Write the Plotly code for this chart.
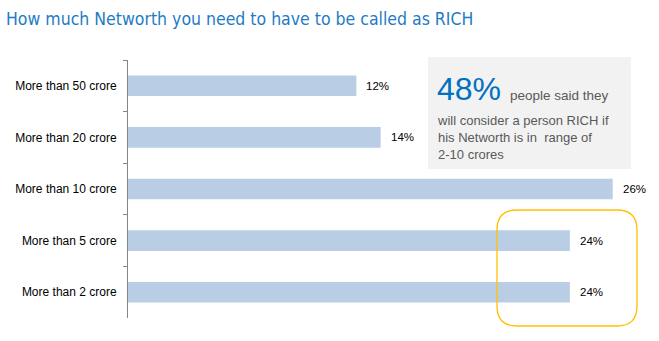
import plotly.graph_objects as go

categories = ["More than 50 crore", "More than 20 crore", "More than 10 crore",
              "More than 5 crore", "More than 2 crore"]
values = [12.25, 13.55, 26.0, 23.7, 23.7]
labels = ["12%", "14%", "26%", "24%", "24%"]

title_text = "How much Networth you need to have to be called as RICH"
callout_big = "48%"
callout_first = "people said they"
callout_rest = "will consider a person RICH if<br>his Networth is in  range of<br>2-10 crores"

W, H = 659, 341
ML, MR, MT, MB = 128, 9, 60, 23
PW, PH = W - ML - MR, H - MT - MB


def px(x):
    return (x - ML) / PW


def py(y):
    return (H - MB - y) / PH


fig = go.Figure()
fig.add_trace(go.Bar(
    x=values, y=categories, orientation="h",
    marker=dict(color="#B9CDE5", line=dict(width=0)),
    hoverinfo="skip",
))

annotations = []
for v, c, t in zip(values, categories, labels):
    annotations.append(dict(x=v, y=c, xref="x", yref="y", text=t, showarrow=False,
                            xanchor="left", yanchor="middle", xshift=8,
                            font=dict(family="Liberation Sans, Arial, sans-serif", size=11.5, color="#000000")))

# callout box
fig.add_shape(type="rect", xref="paper", yref="paper",
              x0=px(428), x1=px(631), y0=py(169), y1=py(57),
              fillcolor="#F2F2F2", line=dict(width=0), layer="below")

annotations.append(dict(x=px(435), y=py(89), xref="paper", yref="paper", text=callout_big,
                        showarrow=False, xanchor="left", yanchor="middle",
                        font=dict(family="Liberation Sans, Arial, sans-serif", size=32, color="#0070C0")))
annotations.append(dict(x=px(508), y=py(95), xref="paper", yref="paper", text=callout_first,
                        showarrow=False, xanchor="left", yanchor="middle",
                        font=dict(family="Liberation Sans, Arial, sans-serif", size=13.5, color="#595959")))
annotations.append(dict(x=px(435), y=py(111), xref="paper", yref="paper", text=callout_rest,
                        showarrow=False, xanchor="left", yanchor="top", align="left",
                        font=dict(family="Liberation Sans, Arial, sans-serif", size=13, color="#595959")))

# rounded highlight
x0, x1, y0, y1 = px(497), px(637), py(326), py(210)
rx, ry = 20 / PW, 20 / PH
path = (f"M {x0+rx},{y0} L {x1-rx},{y0} Q {x1},{y0} {x1},{y0+ry} "
        f"L {x1},{y1-ry} Q {x1},{y1} {x1-rx},{y1} "
        f"L {x0+rx},{y1} Q {x0},{y1} {x0},{y1-ry} "
        f"L {x0},{y0+ry} Q {x0},{y0} {x0+rx},{y0} Z")
fig.add_shape(type="path", xref="paper", yref="paper", path=path,
              line=dict(color="#FFC000", width=1.3), fillcolor="rgba(0,0,0,0)")

fig.update_layout(
    width=W, height=H,
    margin=dict(l=ML, r=MR, t=MT, b=MB, pad=0),
    paper_bgcolor="#FFFFFF", plot_bgcolor="#FFFFFF",
    bargap=0.6,
    showlegend=False,
    title=dict(text=title_text, xref="container", yref="container",
               x=6 / W, xanchor="left", y=1 - 19 / H, yanchor="middle",
               font=dict(family="DejaVu Sans Condensed, Liberation Sans Narrow, sans-serif",
                         size=17.5, color="#1F7BC4")),
    xaxis=dict(range=[0, 28], visible=False, fixedrange=True),
    yaxis=dict(autorange="reversed", showline=True, linecolor="#868686", linewidth=1,
               ticks="outside", tickson="boundaries", ticklen=4, tickcolor="#868686",
               showgrid=False, zeroline=False, ticklabelstandoff=8,
               tickfont=dict(family="Liberation Sans, Arial, sans-serif", size=12, color="#000000")),
    annotations=annotations,
)

fig.write_html("out.html")
